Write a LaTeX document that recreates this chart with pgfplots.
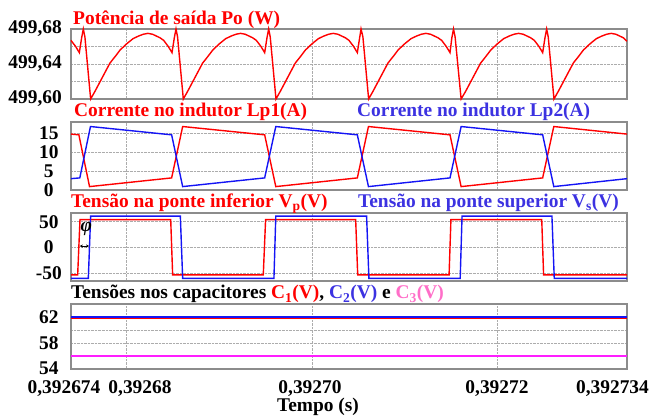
\documentclass[border=0pt]{standalone}
\usepackage{fontspec}
\setmainfont{Liberation Serif}[BoldFont={Liberation Serif Bold}, BoldItalicFont={Liberation Serif Bold Italic}]
\usepackage{pgfplots}
\pgfplotsset{compat=1.18}
\usetikzlibrary{arrows.meta}
\definecolor{myred}{RGB}{255,0,0}
\definecolor{myblue}{RGB}{20,20,245}
\definecolor{tblue}{RGB}{60,50,225}
\definecolor{tpink}{RGB}{255,110,200}
\definecolor{mag}{RGB}{255,30,255}
\definecolor{frame}{RGB}{140,140,140}
\newcommand\F{\fontsize{19.4bp}{22bp}\selectfont\bfseries}
\newcommand\Y[1]{\makebox[28bp][c]{#1}}
\pgfplotsset{panel/.style={
  scale only axis, width=556bp, xmin=0, xmax=60,
  xtick={0,6,26,46,60}, xticklabels={},
  axis line style={draw=frame, line width=1.3bp},
  major tick length=0pt, minor tick length=0pt,
  grid=both,
  major grid style={densely dotted, gray!65, line width=0.6bp},
  minor grid style={densely dotted, gray!65, line width=0.6bp},
  yticklabel style={font=\F, inner sep=0pt, anchor=east, xshift=-8bp},
  anchor=south west, clip=false,
  every axis plot/.append style={line width=1.4bp, no markers},
}}
\begin{document}
\begin{tikzpicture}
% Panel 1: output power
\begin{axis}[panel, at={(71bp,317bp)}, height=70bp,
  ymin=499.60, ymax=499.68,
  ytick={499.60,499.64,499.68}, yticklabels={{499,60},{499,64},{499,68}},
  minor ytick={499.62,499.66},
  yticklabel style={xshift=-1bp}]
\addplot[myred] coordinates {
(0,499.667) (0.5,499.660) (0.9,499.653) (1.15,499.670) (1.33,499.680) (1.5,499.671) (2.12,499.600) (2.6,499.609) (3.1,499.619) (3.7,499.631) (4.2,499.641) (4.8,499.649) (5.3,499.656) (6.0,499.663) (6.7,499.669) (7.3,499.672) (7.8,499.674) (8.3,499.675) (8.8,499.674) (9.2,499.672) (9.6,499.670)
(10,499.667) (10.5,499.660) (10.9,499.653) (11.15,499.670) (11.33,499.680) (11.5,499.671) (12.12,499.600) (12.6,499.609) (13.1,499.619) (13.7,499.631) (14.2,499.641) (14.8,499.649) (15.3,499.656) (16.0,499.663) (16.7,499.669) (17.3,499.672) (17.8,499.674) (18.3,499.675) (18.8,499.674) (19.2,499.672) (19.6,499.670)
(20,499.667) (20.5,499.660) (20.9,499.653) (21.15,499.670) (21.33,499.680) (21.5,499.671) (22.12,499.600) (22.6,499.609) (23.1,499.619) (23.7,499.631) (24.2,499.641) (24.8,499.649) (25.3,499.656) (26.0,499.663) (26.7,499.669) (27.3,499.672) (27.8,499.674) (28.3,499.675) (28.8,499.674) (29.2,499.672) (29.6,499.670)
(30,499.667) (30.5,499.660) (30.9,499.653) (31.15,499.670) (31.3,499.680) (31.5,499.671) (32.12,499.600) (32.6,499.609) (33.1,499.619) (33.7,499.631) (34.2,499.641) (34.8,499.649) (35.3,499.656) (36.0,499.663) (36.7,499.669) (37.3,499.672) (37.8,499.674) (38.3,499.675) (38.8,499.674) (39.2,499.672) (39.6,499.670)
(40,499.667) (40.5,499.660) (40.9,499.653) (41.1,499.670) (41.28,499.680) (41.45,499.671) (42.1,499.600) (42.6,499.609) (43.1,499.619) (43.7,499.631) (44.2,499.641) (44.8,499.649) (45.3,499.656) (46.0,499.663) (46.7,499.669) (47.3,499.672) (47.8,499.674) (48.3,499.675) (48.8,499.674) (49.2,499.672) (49.6,499.670)
(50,499.667) (50.5,499.660) (50.9,499.653) (51.15,499.670) (51.33,499.680) (51.5,499.671) (52.12,499.600) (52.6,499.609) (53.1,499.619) (53.7,499.631) (54.2,499.641) (54.8,499.649) (55.3,499.656) (56.0,499.663) (56.7,499.669) (57.3,499.672) (57.8,499.674) (58.3,499.675) (58.8,499.674) (59.2,499.672) (59.6,499.670)
(60,499.666)
};
\end{axis}
% Panel 2: inductor currents
\begin{axis}[panel, at={(71bp,226bp)}, height=68bp,
  ymin=0, ymax=18, ytick={0,5,10,15},
  yticklabels={\Y{0},\Y{5},\Y{10},\Y{15}}]
\addplot[myred] coordinates {
(0,14.8) (0.85,14.6) (2.0,0.9) (10.86,3.2) (12.05,16.8) (20.9,14.6) (22.1,0.9) (30.9,3.2) (32.1,16.8) (40.9,14.6) (42.1,0.9) (50.9,3.2) (52.1,16.8) (60,14.8)};
\addplot[myblue] coordinates {
(0,3.0) (0.95,3.2) (2.1,16.8) (10.86,14.6) (12.05,0.9) (20.9,3.2) (22.1,16.8) (30.9,14.6) (32.1,0.9) (40.9,3.2) (42.1,16.8) (50.9,14.6) (52.1,0.9) (60,3.0)};
\end{axis}
% Panel 3: bridge voltages
\begin{axis}[panel, at={(71bp,135bp)}, height=68bp,
  ymin=-66, ymax=67, ytick={-50,0,50},
  yticklabels={\Y{-50},\Y{0},\Y{50}}]
\addplot[myred] coordinates {
(0,-54) (0.72,-54) (0.97,54) (10.76,54) (10.97,-54) (20.75,-54) (21.0,54) (30.72,54) (30.94,-54) (40.8,-54) (41.0,54) (50.8,54) (51.0,-54) (60,-54)};
\addplot[myblue] coordinates {
(0,-61) (1.87,-61) (2.12,61) (11.8,61) (12.05,-61) (21.9,-61) (22.1,61) (31.9,61) (32.15,-61) (42.0,-61) (42.2,61) (51.9,61) (52.15,-61) (60,-61)};
\node[font=\fontsize{19.4bp}{22bp}\selectfont\bfseries\itshape, inner sep=0pt] at (axis cs:1.65,36) {φ};
\draw[{Stealth[length=3bp,width=3bp]}-{Stealth[length=3bp,width=3bp]}, line width=0.7bp] (axis cs:0.95,2.4) -- (axis cs:1.95,2.4);
\end{axis}
% Panel 4: capacitor voltages
\begin{axis}[panel, at={(71bp,47bp)}, height=65bp,
  ymin=54, ymax=64, ytick={54,58,62}, minor ytick={56,60},
  yticklabels={\Y{\raisebox{2bp}{54}},\Y{58},\Y{62}}]
\addplot[myred] coordinates {(0,61.84) (60,61.84)};
\addplot[myblue] coordinates {(0,62.02) (60,62.02)};
\addplot[mag] coordinates {(0,56) (60,56)};
\end{axis}
% titles
\node[anchor=base west, inner sep=0pt, font=\F, text=myred] at (73bp,391bp) {Potência de saída Po (W)};
\node[anchor=base west, inner sep=0pt, font=\F, text=myred] at (74bp,299.3bp) {Corrente no indutor Lp1(A)};
\node[anchor=base west, inner sep=0pt, font=\F, text=tblue] at (357bp,299.3bp) {Corrente no indutor Lp2(A)};
\node[anchor=base west, inner sep=0pt, font=\F, text=myred] at (71bp,208.7bp) {Tensão na ponte inferior V\textsubscript{p}(V)};
\node[anchor=base west, inner sep=0pt, font=\F, text=tblue] at (358bp,208.7bp) {Tensão na ponte superior V\textsubscript{s}(V)};
\node[anchor=base west, inner sep=0pt, font=\F] at (71bp,117bp) {Tensões nos capacitores \textcolor{myred}{C\textsubscript{1}(V)}, \textcolor{tblue}{C\textsubscript{2}(V)} e \textcolor{tpink}{C\textsubscript{3}(V)}};
% x tick labels and x label
\node[anchor=base, inner sep=0pt, font=\F] at (64bp,23bp) {0,392674};
\node[anchor=base, inner sep=0pt, font=\F] at (140bp,23bp) {0,39268};
\node[anchor=base, inner sep=0pt, font=\F] at (310bp,23bp) {0,39270};
\node[anchor=base, inner sep=0pt, font=\F] at (497bp,23bp) {0,39272};
\node[anchor=base, inner sep=0pt, font=\F] at (612.5bp,23bp) {0,392734};
\node[anchor=base, inner sep=0pt, font=\F] at (318bp,5bp) {Tempo (s)};
\pgfresetboundingbox
\path[use as bounding box] (0bp,0bp) rectangle (651bp,416bp);
\end{tikzpicture}
\end{document}
